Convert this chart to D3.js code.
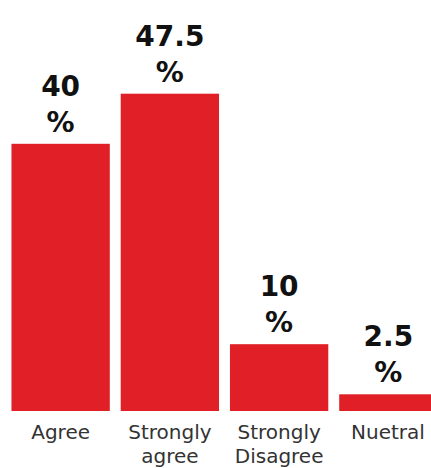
<!DOCTYPE html>
<html>
<head>
<meta charset="utf-8">
<script src="https://cdn.jsdelivr.net/npm/d3@7"></script>
<style>
  html, body { margin: 0; padding: 0; background: #fff; }
  svg { display: block; }
</style>
</head>
<body>
<script>
const categories = ["Agree", "Strongly agree", "Strongly Disagree", "Nuetral"];
const values = [40, 47.5, 10, 2.5];
const valueLabels = ["40", "47.5", "10", "2.5"];

const W = 431, H = 468;
const svg = d3.select("body").append("svg").attr("width", W).attr("height", H);

const x = d3.scaleBand().domain(categories).range([6, 443]).paddingInner(0.1).paddingOuter(0.05);
const y = d3.scaleLinear().domain([0, 50]).range([411, 77]);

const data = categories.map((c, i) => ({ c, v: values[i], l: valueLabels[i] }));

svg.selectAll("rect.bar").data(data).enter().append("rect")
  .attr("class", "bar")
  .attr("x", d => x(d.c))
  .attr("width", x.bandwidth())
  .attr("y", d => y(d.v))
  .attr("height", d => y(0) - y(d.v))
  .attr("fill", "#e01f27");

const vl = svg.selectAll("text.val").data(data).enter().append("text")
  .attr("class", "val")
  .attr("text-anchor", "middle")
  .attr("font-family", "'DejaVu Sans', sans-serif")
  .attr("font-weight", "bold")
  .attr("font-size", 28)
  .attr("fill", "#111");
vl.append("tspan").attr("x", d => x(d.c) + x.bandwidth() / 2).attr("y", d => y(d.v) - 48).text(d => d.l);
vl.append("tspan").attr("x", d => x(d.c) + x.bandwidth() / 2).attr("y", d => y(d.v) - 12).text("%");

const cl = svg.selectAll("text.cat").data(data).enter().append("text")
  .attr("class", "cat")
  .attr("text-anchor", "middle")
  .attr("font-family", "'DejaVu Sans', sans-serif")
  .attr("font-size", 20)
  .attr("fill", "#333");
cl.each(function(d) {
  const words = d.c.split(" ");
  const cx = Math.min(x(d.c) + x.bandwidth() / 2, 388);
  words.forEach((w, i) => {
    d3.select(this).append("tspan").attr("x", cx).attr("y", 439 + i * 24).text(w);
  });
});
</script>
</body>
</html>
